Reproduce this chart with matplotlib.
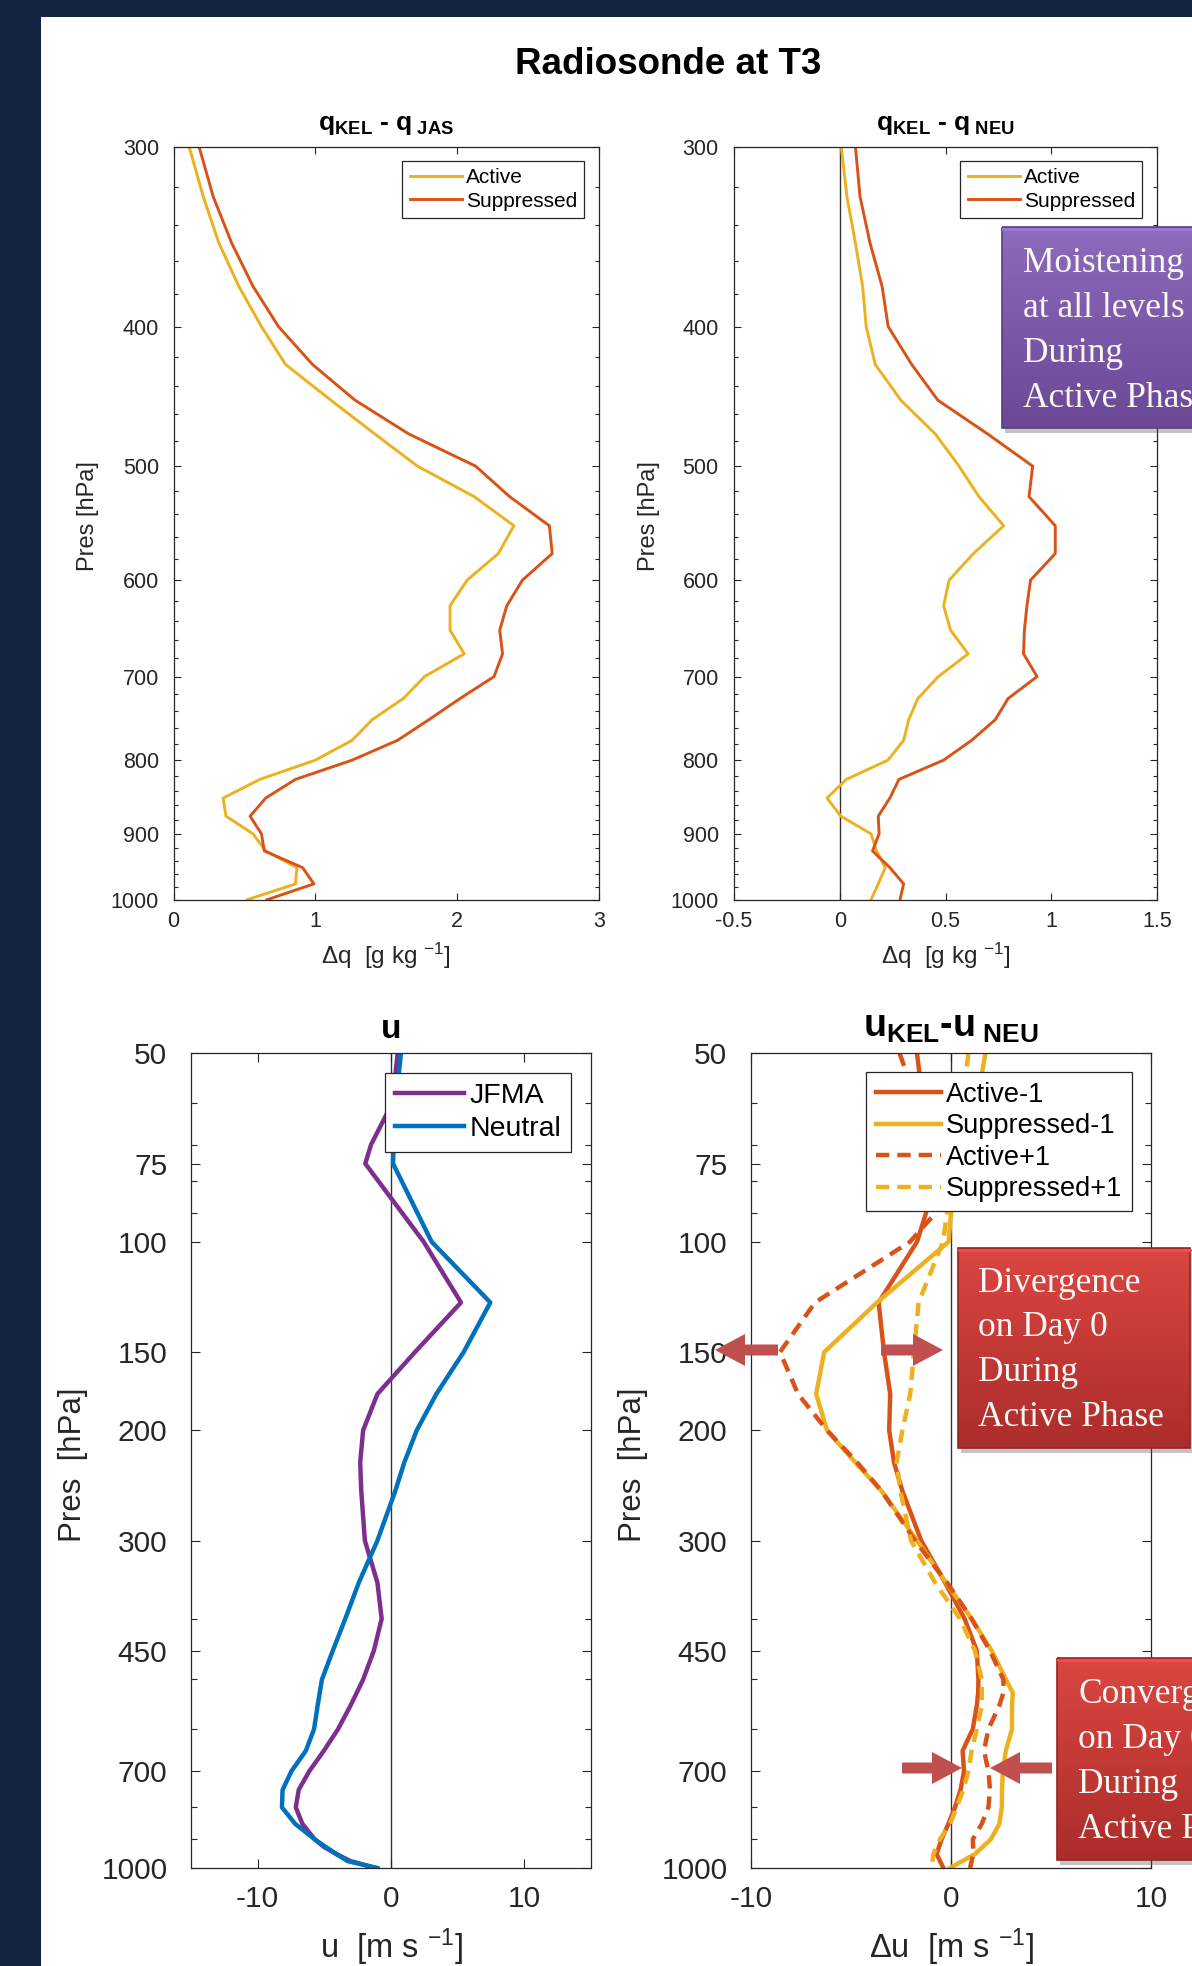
import numpy as np
import matplotlib
matplotlib.use("Agg")
import matplotlib.pyplot as plt
from matplotlib.patches import Rectangle, FancyArrow
from matplotlib.ticker import NullFormatter
from matplotlib.colors import to_rgb

plt.rcParams['font.family'] = ['Liberation Sans', 'DejaVu Sans']
plt.rcParams['mathtext.fontset'] = 'custom'
plt.rcParams['mathtext.rm'] = 'Liberation Sans'
plt.rcParams['mathtext.it'] = 'Liberation Sans:italic'
plt.rcParams['mathtext.bf'] = 'Liberation Sans:bold'

W, H = 1192, 1966
ORANGE = "#D95319"
YELLOW = "#EDB120"
BLUE = "#0072BD"
PURPLE = "#7E2F8E"
NAVY = "#132542"
INK = "#262626"
ARROW = "#C0504D"

# ---- moisture anomalies (top row), g/kg ----
p_q = [300, 325, 350, 375, 400, 425, 450, 475, 500, 525, 550, 575, 600, 625, 650,
       675, 700, 725, 750, 775, 800, 825, 850, 875, 900, 925, 950, 975, 1000]
dq_jas_active = [0.11, 0.21, 0.32, 0.46, 0.62, 0.79, 1.11, 1.42, 1.72, 2.12, 2.40, 2.29, 2.07, 1.95, 1.95,
                 2.05, 1.77, 1.62, 1.40, 1.26, 1.00, 0.61, 0.35, 0.37, 0.56, 0.65, 0.87, 0.86, 0.52]
dq_jas_supp = [0.18, 0.28, 0.41, 0.56, 0.74, 0.98, 1.28, 1.66, 2.13, 2.37, 2.65, 2.67, 2.46, 2.35, 2.30,
               2.32, 2.26, 2.02, 1.80, 1.58, 1.26, 0.86, 0.65, 0.54, 0.62, 0.64, 0.91, 0.99, 0.66]
dq_neu_active = [0.007, 0.034, 0.074, 0.108, 0.125, 0.168, 0.289, 0.452, 0.564, 0.658, 0.775, 0.632, 0.517, 0.491, 0.524,
                 0.607, 0.466, 0.369, 0.326, 0.302, 0.228, 0.031, -0.06, 0.005, 0.148, 0.174, 0.215, 0.182, 0.148]
dq_neu_supp = [0.074, 0.096, 0.143, 0.20, 0.229, 0.34, 0.464, 0.70, 0.912, 0.895, 1.019, 1.019, 0.902, 0.885, 0.873,
               0.869, 0.933, 0.796, 0.735, 0.624, 0.491, 0.28, 0.237, 0.182, 0.186, 0.155, 0.237, 0.302, 0.285]

# ---- zonal wind (bottom left), m/s ----
p_u = [50, 60, 70, 75, 100, 125, 150, 175, 200, 225, 250, 300, 350, 400, 450, 500, 550,
       600, 650, 700, 750, 800, 850, 900, 925, 950, 975, 1000]
u_jfma = [0.5, 0.1, -1.5, -1.93, 2.45, 5.25, 1.8, -1.02, -2.09, -2.31, -2.23, -1.96, -1.02, -0.70, -1.29, -2.09, -3.03,
          -3.97, -5.04, -6.12, -6.92, -7.14, -6.65, -5.72, -5.04, -4.10, -3.03, -1.15]
u_neutral = [0.75, 0.35, 0.2, 0.15, 3.05, 7.45, 5.45, 3.4, 1.93, 1.0, 0.32, -1.02, -2.41, -3.43, -4.37, -5.18, -5.5,
             -5.77, -6.39, -7.46, -8.13, -8.18, -7.19, -5.72, -4.91, -4.10, -3.25, -1.02]

# ---- wind anomalies (bottom right), m/s ----
p_du = [50, 60, 70, 80, 90, 100, 125, 150, 175, 200, 225, 250, 300, 350, 400, 450, 500, 525,
        550, 600, 650, 700, 750, 800, 850, 900, 950, 1000]
du_active_m1 = [-1.7, -1.4, -1.2, -1.1, -1.25, -1.7, -3.62, -3.35, -3.04, -3.09, -2.85, -2.43, -1.49, -0.3, 0.68, 1.29, 1.37, 1.36,
                1.29, 1.09, 0.58, 0.65, 0.48, 0.2, -0.13, -0.47, -0.72, -0.38]
du_supp_m1 = [1.72, 1.3, 0.8, 0.4, 0.0, -0.12, -3.7, -6.34, -6.74, -6.2, -4.79, -3.47, -1.7, -0.25, 1.03, 2.04, 2.75, 3.09,
              3.05, 3.05, 2.74, 2.59, 2.55, 2.54, 2.42, 1.99, 1.2, -0.05]
du_active_p1 = [-2.57, -1.7, -1.2, -0.9, -0.78, -2.05, -6.8, -8.55, -7.65, -6.2, -4.7, -3.47, -1.8, -0.2, 1.03, 1.95, 2.62, 2.62,
                2.42, 1.87, 1.65, 1.87, 1.95, 1.87, 1.54, 1.09, 1.12, 0.95]
du_supp_p1 = [0.87, 0.58, 0.3, 0.0, -0.2, -0.4, -1.62, -1.85, -2.04, -2.43, -2.72, -2.53, -2.0, -0.8, 0.45, 1.2, 1.54, 1.54,
              1.54, 1.29, 1.03, 0.87, 0.62, 0.28, -0.05, -0.55, -0.88, -0.97]

q_yticks = [300, 400, 500, 600, 700, 800, 900, 1000]
q_yminor = [p for p in range(300, 1001, 20) if p % 100 != 0]
u_yticks = [50, 75, 100, 150, 200, 300, 450, 700, 1000]
u_yminor = [60, 70, 80, 90, 400, 500, 600, 800, 900]


def px_axes(fig, x0, y0, x1, y1):
    return fig.add_axes([x0 / W, 1 - y1 / H, (x1 - x0) / W, (y1 - y0) / H])


def style(ax, ylim, yticks, yminor, xlim, xticks, xticklabels, fs, padx, pady, majlen, minlen):
    ax.set_yscale('log')
    ax.set_ylim(ylim[1], ylim[0])
    ax.set_yticks(yticks)
    ax.set_yticklabels([str(t) for t in yticks])
    ax.set_yticks(yminor, minor=True)
    ax.yaxis.set_minor_formatter(NullFormatter())
    ax.set_xlim(*xlim)
    ax.set_xticks(xticks)
    ax.set_xticklabels(xticklabels)
    ax.tick_params(which='both', direction='in', top=True, right=True, color=INK,
                   labelcolor=INK, labelsize=fs, width=0.8)
    ax.tick_params(axis='x', pad=padx)
    ax.tick_params(axis='y', pad=pady)
    ax.tick_params(which='major', length=majlen)
    ax.tick_params(which='minor', length=minlen)
    for s in ax.spines.values():
        s.set_color(INK)
        s.set_linewidth(0.9)


def add_legend(ax, fs, hl, ls):
    leg = ax.legend(loc='upper right', fontsize=fs, frameon=True, fancybox=False, framealpha=1,
                    edgecolor=INK, handlelength=hl, handletextpad=0.2, borderpad=0.35,
                    labelspacing=ls, borderaxespad=0.7)
    leg.get_frame().set_linewidth(0.9)
    return leg


fig = plt.figure(figsize=(W / 100, H / 100), dpi=100)
fig.set_facecolor(NAVY)

bg = fig.add_axes([0, 0, 1, 1], zorder=-10)
bg.set_xlim(0, W)
bg.set_ylim(H, 0)
bg.axis('off')
bg.add_patch(Rectangle((41, 17), W - 41, H - 17, color='white', lw=0))

fig.text(668 / W, 1 - 64 / H, 'Radiosonde at T3', ha='center', va='center',
         fontsize=26.5, fontweight='bold')

# ---- top left ----
ax1 = px_axes(fig, 173.5, 146.6, 599, 899.7)
ax1.plot(dq_jas_active, p_q, color=YELLOW, lw=2.1, label='Active')
ax1.plot(dq_jas_supp, p_q, color=ORANGE, lw=2.1, label='Suppressed')
style(ax1, (300, 1000), q_yticks, q_yminor, (0, 3), [0, 1, 2, 3], ['0', '1', '2', '3'],
      15.5, 8, 10.5, 5, 3)
add_legend(ax1, 15, 2.5, 0.2)
ax1.set_title(r'$\mathbf{q_{KEL}}$ - $\mathbf{q_{\ JAS}}$', fontsize=19, fontweight='bold', pad=12)

# ---- top right ----
ax2 = px_axes(fig, 734, 146.6, 1157, 899.7)
ax2.axvline(0, color='#333333', lw=1.0, zorder=1.5)
ax2.plot(dq_neu_active, p_q, color=YELLOW, lw=2.1, label='Active')
ax2.plot(dq_neu_supp, p_q, color=ORANGE, lw=2.1, label='Suppressed')
style(ax2, (300, 1000), q_yticks, q_yminor, (-0.5, 1.5), [-0.5, 0, 0.5, 1, 1.5],
      ['-0.5', '0', '0.5', '1', '1.5'], 15.5, 8, 11, 5, 3)
add_legend(ax2, 15, 2.5, 0.2)
ax2.set_title(r'$\mathbf{q_{KEL}}$ - $\mathbf{q_{\ NEU}}$', fontsize=19, fontweight='bold', pad=12)

for ax in (ax1, ax2):
    ax.set_ylabel('Pres [hPa]', fontsize=17, color=INK, va='center')
    ax.yaxis.set_label_coords(-0.2, 0.51)
    ax.set_xlabel(r'$\Delta$q  [g kg $^{-1}$]', fontsize=17.5, color=INK, va='center')
    ax.xaxis.set_label_coords(0.5, -0.074)

# ---- bottom left ----
ax3 = px_axes(fig, 191, 1053.3, 591, 1868)
ax3.axvline(0, color='#333333', lw=1.0, zorder=1.5)
ax3.plot(u_jfma, p_u, color=PURPLE, lw=3.2, label='JFMA')
ax3.plot(u_neutral, p_u, color=BLUE, lw=3.2, label='Neutral')
style(ax3, (50, 1000), u_yticks, u_yminor, (-15, 15), [-10, 0, 10], ['-10', '0', '10'],
      21.5, 12, 17, 6.5, 4)
add_legend(ax3, 20.5, 2.4, 0.25)
ax3.set_title('u', fontsize=24, fontweight='bold', pad=11)
ax3.set_xlabel(r'u  [m s $^{-1}$]', fontsize=23.5, color=INK, va='center')

# ---- bottom right ----
ax4 = px_axes(fig, 751, 1053.3, 1151, 1868)
ax4.axvline(0, color='#333333', lw=1.0, zorder=1.5)
ax4.plot(du_active_m1, p_du, color=ORANGE, lw=3.2, label='Active-1')
ax4.plot(du_supp_m1, p_du, color=YELLOW, lw=3.2, label='Suppressed-1')
ax4.plot(du_active_p1, p_du, color=ORANGE, lw=3.2, dashes=(3, 1.8), label='Active+1')
ax4.plot(du_supp_p1, p_du, color=YELLOW, lw=3.2, dashes=(3, 1.8), label='Suppressed+1')
style(ax4, (50, 1000), u_yticks, u_yminor, (-10, 10), [-10, 0, 10], ['-10', '0', '10'],
      21.5, 12, 17, 6.5, 4)
add_legend(ax4, 19.5, 2.4, 0.2)
ax4.set_title(r'$\mathbf{u_{KEL}}$-$\mathbf{u_{\ NEU}}$', fontsize=27, fontweight='bold', pad=12)
ax4.set_xlabel(r'$\Delta$u  [m s $^{-1}$]', fontsize=23.5, color=INK, va='center')

for ax in (ax3, ax4):
    ax.set_ylabel('Pres  [hPa]', fontsize=22.5, color=INK, va='center')
    ax.yaxis.set_label_coords(-0.295, 0.495)
    ax.xaxis.set_label_coords(0.5, -0.097)

# ---- annotation overlay (pixel coordinates) ----
ov = fig.add_axes([0, 0, 1, 1], zorder=10)
ov.patch.set_alpha(0)
ov.axis('off')


def gradient_box(x0, y0, x1, y1, top, bottom):
    ov.add_patch(Rectangle((x0 + 3, y0 + 5), x1 - x0, y1 - y0, color='#555555', alpha=0.35, lw=0, zorder=1))
    c0 = np.array(to_rgb(top))
    c1 = np.array(to_rgb(bottom))
    t = np.linspace(0, 1, 128)[:, None, None]
    img = c0 + (c1 - c0) * t
    ov.imshow(img, extent=(x0, x1, y1, y0), aspect='auto', interpolation='bilinear', zorder=2)
    ov.add_patch(Rectangle((x0, y0), x1 - x0, y1 - y0, fill=False,
                           edgecolor=tuple(np.clip(c1 * 0.85, 0, 1)), lw=1.2, zorder=3))
    ov.plot([x0 + 1, x1], [y0 + 1.5, y0 + 1.5], color=tuple(np.clip(c0 * 1.12, 0, 1)), lw=2, zorder=3)


def box_text(x, y0, lines, step, fs):
    for i, s in enumerate(lines):
        ov.text(x, y0 + i * step, s, fontfamily=['Liberation Serif', 'DejaVu Serif'], fontsize=fs,
                color='#fdf8f3', ha='left', va='baseline', zorder=4)


gradient_box(1002, 227, 1215, 428, '#8d6bbd', '#6a4896')
box_text(1023, 272, ['Moistening', 'at all levels', 'During', 'Active Phase'], 45, 25.5)

gradient_box(958, 1248, 1190, 1448, '#db4642', '#ab2d2b')
box_text(978, 1292, ['Divergence', 'on Day 0', 'During', 'Active Phase'], 44.5, 25.5)

gradient_box(1057, 1658, 1215, 1860, '#db4642', '#ab2d2b')
box_text(1078, 1703, ['Convergence', 'on Day 0', 'During', 'Active Phase'], 45, 25.5)

arrows = [(778, 1350, -63), (881, 1350, 62), (902, 1768, 60), (1052, 1768, -62)]
for xt, yt, dx in arrows:
    ov.add_patch(FancyArrow(xt, yt, dx, 0, width=11, head_width=32, head_length=30,
                            length_includes_head=True, color=ARROW, lw=0, zorder=5))

ov.set_xlim(0, W)
ov.set_ylim(H, 0)

fig.savefig('out.png', dpi=100, facecolor=fig.get_facecolor())
